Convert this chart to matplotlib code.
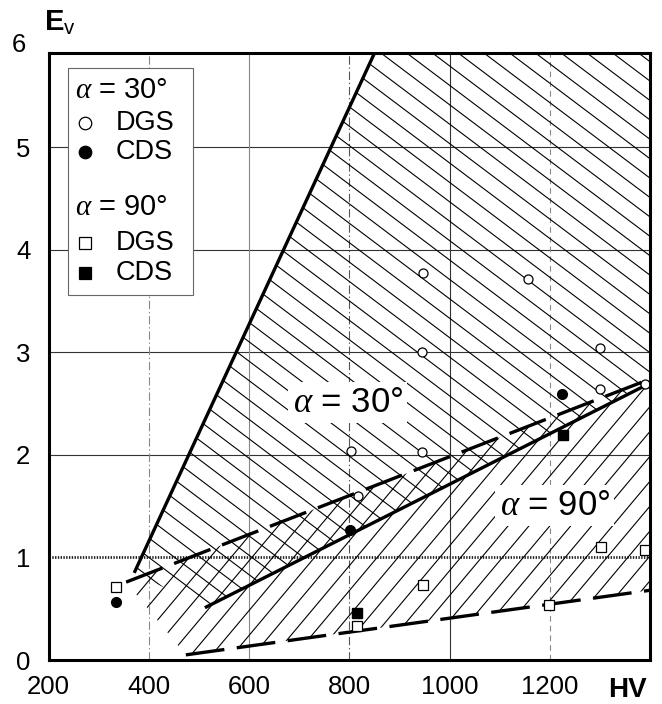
import numpy as np
import matplotlib
matplotlib.use("Agg")
import matplotlib.pyplot as plt
from matplotlib.patches import Polygon, Rectangle
from matplotlib.collections import LineCollection

plt.rcParams['font.family'] = ['Liberation Sans', 'DejaVu Sans']
plt.rcParams['mathtext.fontset'] = 'custom'
plt.rcParams['mathtext.rm'] = 'Liberation Sans'
plt.rcParams['mathtext.bf'] = 'Liberation Sans:bold'
plt.rcParams['mathtext.it'] = 'Liberation Serif:italic'
plt.rcParams['lines.scale_dashes'] = False

# alpha = 30 deg points
dgs30_hv = [947, 1156, 945, 1300, 803, 945, 1300, 1390, 817]
dgs30_ev = [3.77, 3.72, 3.00, 3.04, 2.04, 2.03, 2.64, 2.69, 1.60]
cds30_hv = [335, 801, 1224]
cds30_ev = [0.57, 1.27, 2.59]
# alpha = 90 deg points
dgs90_hv = [335, 815, 947, 1198, 1302, 1390]
dgs90_ev = [0.71, 0.33, 0.73, 0.54, 1.10, 1.07]
cds90_hv = [815, 1226]
cds90_ev = [0.46, 2.19]

# boundary lines of the two hatched regions
steep_hv = [371, 858]
steep_ev = [0.85, 6.0]
lower30_hv = [512, 1400]
lower30_ev = [0.51, 2.70]
upper90_hv = [355, 1400]
upper90_ev = [0.76, 2.74]
lower90_hv = [474, 1400]
lower90_ev = [0.05, 0.68]

xticks = [200, 400, 600, 800, 1000, 1200]
yticks = [0, 1, 2, 3, 4, 5]
xmin, xmax = 200, 1400
ymin, ymax = 0, 5.92

FW, FH = 662, 704
L, R, T, B = 48.5, 650, 53, 660
W, H = R - L, B - T

fig = plt.figure(figsize=(FW / 100, FH / 100), dpi=100)
ax = fig.add_axes([L / FW, (FH - B) / FH, W / FW, H / FH])
ax.set_xlim(xmin, xmax)
ax.set_ylim(ymin, ymax)


# parallel hatch lines (angle in screen degrees, spacing in px) clipped to polygon
def hatch(verts, angle, spacing):
    poly = Polygon(verts, closed=True, fill=False, edgecolor='none')
    ax.add_patch(poly)
    t = np.radians(angle)
    d = np.array([np.cos(t), np.sin(t)])
    n = np.array([-np.sin(t), np.cos(t)])
    c = np.array([W / 2, H / 2])
    span = np.hypot(W, H)
    segs = []
    for k in np.arange(-span, span, spacing):
        p = c + k * n
        segs.append([(p - span * d) / [W, H], (p + span * d) / [W, H]])
    lc = LineCollection(segs, colors='black', linewidths=0.8,
                        transform=ax.transAxes, zorder=1.5)
    ax.add_collection(lc, autolim=False)
    lc.set_clip_path(poly)
    lc.set_clip_box(ax.bbox)


reg30 = [(steep_hv[0], steep_ev[0]), (steep_hv[1], steep_ev[1]), (xmax, steep_ev[1]),
         (lower30_hv[1], lower30_ev[1]), (lower30_hv[0], lower30_ev[0])]
reg90 = [(upper90_hv[0], upper90_ev[0]), (upper90_hv[1], upper90_ev[1]),
         (lower90_hv[1], lower90_ev[1]), (lower90_hv[0], lower90_ev[0])]
hatch(reg30, -37, 15.5)
hatch(reg90, 50, 16)

# grid
for y in yticks[2:]:
    ax.axhline(y, color='#333333', lw=0.8, zorder=1)
ax.axhline(1, color='#222222', lw=2.0, ls=(0, (1, 1)), zorder=1)
vstyles = [(0, (6, 2, 1, 2)), '-', (0, (6, 2, 1, 2)), '-', (0, (4, 3))]
vcolors = ['#888888', '#888888', '#555555', '#333333', '#888888']
for x, ls, col in zip(xticks[1:], vstyles, vcolors):
    ax.axvline(x, color=col, lw=0.8, ls=ls, zorder=1)

# boundaries
ax.plot(steep_hv, steep_ev, color='black', lw=2.4, zorder=3, solid_capstyle='butt')
ax.plot(lower30_hv, lower30_ev, color='black', lw=2.4, zorder=3, solid_capstyle='butt')
ax.plot(upper90_hv, upper90_ev, color='black', lw=2.4, ls=(0, (28, 9)), zorder=3)
ax.plot(lower90_hv, lower90_ev, color='black', lw=2.4, ls=(0, (28, 9)), zorder=3)

# data points
ax.plot(dgs30_hv, dgs30_ev, 'o', ms=6.5, mfc='white', mec='black', mew=0.9, zorder=4)
ax.plot(cds30_hv, cds30_ev, 'o', ms=7, mfc='black', mec='black', zorder=4)
ax.plot(dgs90_hv, dgs90_ev, 's', ms=7, mfc='white', mec='black', mew=0.9, zorder=4)
ax.plot(cds90_hv, cds90_ev, 's', ms=7, mfc='black', mec='black', zorder=4)

# region labels
ax.text(797, 2.51, r'$\alpha$ = 30°', fontsize=25, ha='center', va='center', zorder=3.5,
        bbox=dict(facecolor='white', edgecolor='none', pad=3))
ax.text(1210, 1.51, r'$\alpha$ = 90°', fontsize=25, ha='center', va='center', zorder=3.5,
        bbox=dict(facecolor='white', edgecolor='none', pad=3))

# legend box drawn by hand
ax.add_patch(Rectangle((0.032, 0.601), 0.208, 0.374, transform=ax.transAxes,
                       facecolor='white', edgecolor='#666666', lw=0.8, zorder=5))
rows = [(0.939, r'$\alpha$ = 30°', None, None),
        (0.885, 'DGS', 'o', 'white'),
        (0.837, 'CDS', 'o', 'black'),
        (0.746, r'$\alpha$ = 90°', None, None),
        (0.687, 'DGS', 's', 'white'),
        (0.638, 'CDS', 's', 'black')]
for y, label, mk, fc in rows:
    if mk is None:
        ax.text(0.044, y, label, transform=ax.transAxes, fontsize=21, va='center', zorder=6)
    else:
        ax.plot([0.060], [y], mk, ms=9, mfc=fc, mec='black', mew=0.9,
                transform=ax.transAxes, zorder=6, clip_on=False)
        ax.text(0.111, y, label, transform=ax.transAxes, fontsize=19.5, va='center', zorder=6)

# axes styling
for s in ax.spines.values():
    s.set_linewidth(2.2)
    s.set_zorder(7)
ax.set_xticks(xticks)
ax.set_yticks(yticks)
ax.tick_params(length=0, labelsize=18.5)
ax.tick_params(axis='y', pad=13)
ax.tick_params(axis='x', pad=11)
ax.text(-0.038, 6, '6', transform=ax.get_yaxis_transform(), fontsize=18.5,
        ha='right', va='center', clip_on=False)
ax.text(0.963, -0.049, 'HV', transform=ax.transAxes, fontsize=20, fontweight='bold',
        ha='center', va='center')
ax.text(-0.008, 1.05, r'$\mathbf{E}_{\mathrm{v}}$', transform=ax.transAxes, fontsize=21,
        ha='left', va='center')

fig.savefig('out.png', dpi=100)
